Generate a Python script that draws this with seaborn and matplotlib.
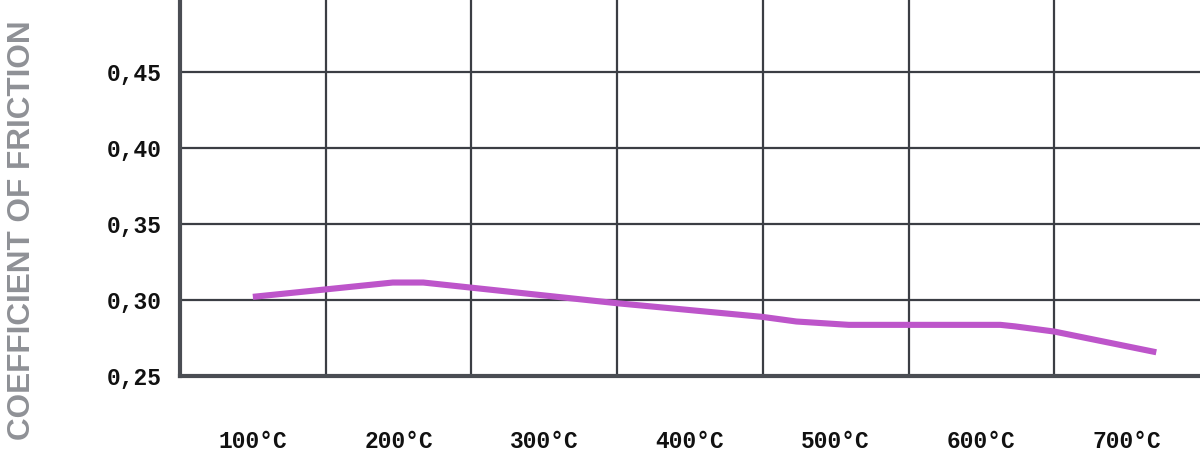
import numpy as np
import pandas as pd
import matplotlib
matplotlib.use("Agg")
import matplotlib.pyplot as plt
import seaborn as sns

# values
temperature = [100, 196, 217, 350, 450, 473, 509, 613, 623, 650, 720]
friction = [0.302, 0.3114, 0.3114, 0.2978, 0.2888, 0.2858, 0.2836, 0.2836, 0.2826, 0.2792, 0.2656]
x_ticks = [100, 200, 300, 400, 500, 600, 700]
x_labels = ["100°C", "200°C", "300°C", "400°C", "500°C", "600°C", "700°C"]
y_ticks = [0.25, 0.30, 0.35, 0.40, 0.45]
y_labels = ["0,25", "0,30", "0,35", "0,40", "0,45"]

data = pd.DataFrame({"temperature": temperature, "friction": friction})

sns.set_style("white")
plt.rcParams["font.family"] = ["Liberation Mono", "DejaVu Sans Mono"]

fig = plt.figure(figsize=(12, 4.54), dpi=100)
ax = fig.add_axes([180 / 1200, 1 - 376 / 454, 1020 / 1200, 376 / 454])

grid_col = "#3b3e44"
# vertical grid between the category labels, horizontal at the y ticks
for gx in [150, 250, 350, 450, 550, 650]:
    ax.axvline(gx, color=grid_col, lw=1.6, zorder=1)
for gy in y_ticks[1:]:
    ax.axhline(gy, color=grid_col, lw=1.6, zorder=1)

sns.lineplot(data=data, x="temperature", y="friction", color="#bd55ca",
             lw=4.4, ax=ax, zorder=3, solid_capstyle="butt")

ax.set_xlim(50, 750)
ax.set_ylim(0.25, 0.497)
ax.set_xticks(x_ticks)
ax.set_xticklabels(x_labels, fontsize=16.5, fontweight="bold", color="#111111")
ax.set_yticks(y_ticks)
ax.set_yticklabels(y_labels, fontsize=16.5, fontweight="bold", color="#111111")
ax.tick_params(axis="x", length=0, pad=39)
ax.tick_params(axis="y", length=0, pad=13)
ax.set_xlabel("")
ax.set_ylabel("")

for s in ["top", "right"]:
    ax.spines[s].set_visible(False)
for s in ["left", "bottom"]:
    ax.spines[s].set_color("#4a4d53")
    ax.spines[s].set_linewidth(3)

fig.text(22 / 1200, 0.493, "COEFFICIENT OF FRICTION", rotation=90,
         ha="center", va="center", fontsize=22.7, fontweight="bold",
         color="#8f9196", family=["Liberation Sans", "DejaVu Sans"])

fig.savefig("out.png", dpi=100)
